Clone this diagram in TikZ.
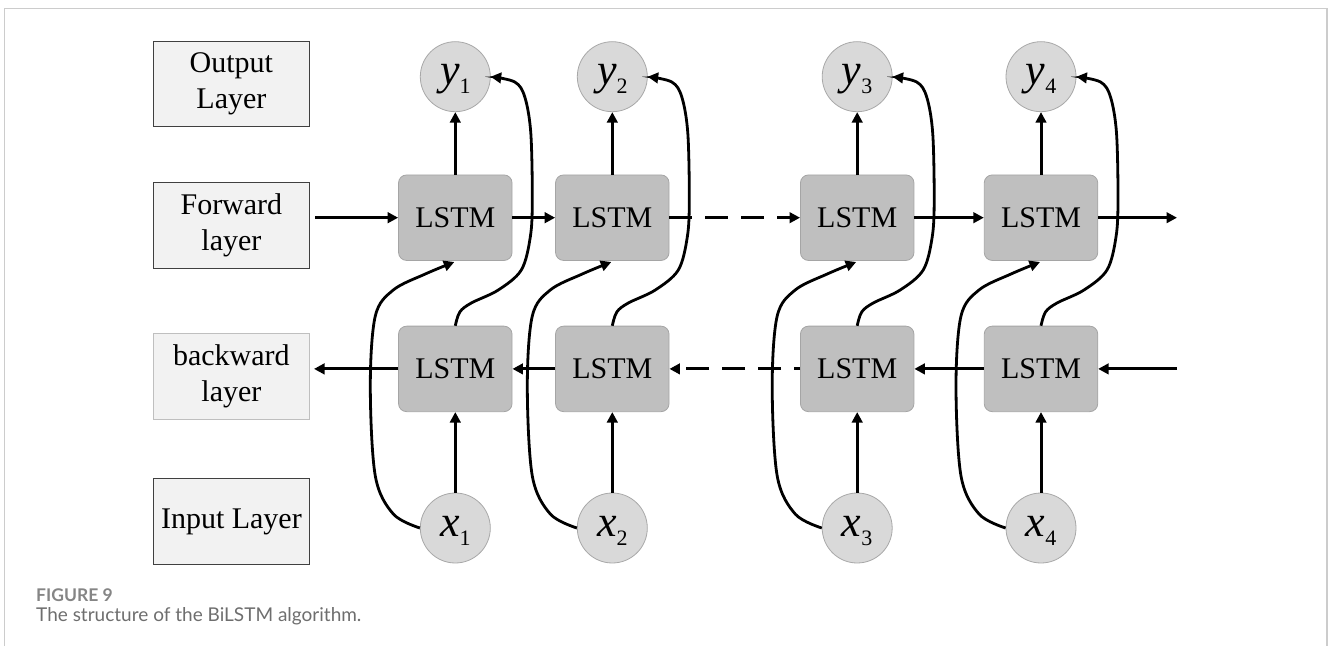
\documentclass[tikz,border=0pt]{standalone}
\usepackage{fontspec}
\setmainfont{Liberation Serif}
\newfontfamily\capfont{Lato}
\newfontfamily\symfont{Liberation Serif}
\usetikzlibrary{arrows.meta}
\definecolor{lstmfill}{HTML}{BFBFBF}
\definecolor{lstmdraw}{HTML}{A5A5A5}
\definecolor{circfill}{HTML}{D9D9D9}
\definecolor{circdraw}{HTML}{A8A8A8}
\definecolor{labfill}{HTML}{F2F2F2}
\definecolor{labdraw}{HTML}{404040}
\definecolor{framecol}{HTML}{CCCCCC}
\definecolor{capgray}{HTML}{6E6E6E}
\definecolor{figgray}{HTML}{858585}
\newcommand\symsub[2]{{\symfont\fontsize{44}{44}\selectfont\itshape #1}\raisebox{-9pt}{\symfont\fontsize{22}{22}\selectfont #2}}
\begin{document}
\begin{tikzpicture}[x=1pt,y=1pt,
  lstm/.style={rectangle, rounded corners=8pt, fill=lstmfill, draw=lstmdraw, line width=0.8pt, minimum width=113.5pt, minimum height=85.5pt, inner sep=0pt, font=\fontsize{30}{36}\selectfont},
  unit/.style={circle, fill=circfill, draw=circdraw, line width=0.8pt, minimum size=70pt, inner sep=0pt},
  sym/.style={anchor=base, inner sep=0pt},
  layerbox/.style={rectangle, fill=labfill, draw=labdraw, line width=1.1pt, minimum width=156pt, minimum height=85.5pt, inner sep=0pt, align=center, font=\fontsize{30}{36}\selectfont},
  arr/.style={line width=3pt, -{Triangle[length=10.5pt,width=10.5pt]}},
  dsh/.style={arr, dash pattern=on 23pt off 13pt},
  curve/.style={arr, line width=2.8pt},
]
\useasboundingbox (0,0) rectangle (1328,646);
% frame
\draw[framecol, line width=1.2pt] (4.3,0) -- (4.3,637.5) -- (1327,637.5) -- (1327,0);
% layer labels
\node[layerbox] (outL) at (231.4,562) {Output\\Layer};
\node[layerbox] (fwdL) at (231.4,420.3) {Forward\\layer};
\node[layerbox, draw=black!25] (bwdL) at (231.4,269.3) {backward\\layer};
\node[layerbox] (inL) at (231.4,124.5) {Input Layer};
% columns
\foreach \i/\c in {1/455.3, 2/612.3, 3/857.2, 4/1041} {
  \node[lstm] (f\i) at (\c,428.3) {LSTM};
  \node[lstm] (b\i) at (\c,277.1) {LSTM};
  \node[unit] (y\i) at (\c,569.3) {};
  \node[unit] (x\i) at (\c,118) {};
  \node[sym] (yl\i) at (\c,561) {\symsub{y}{\i}};
  \node[sym] (xl\i) at (\c,110) {\symsub{x}{\i}};
  \draw[arr] (f\i.north) -- (y\i.south);
  \draw[arr] (x\i.north) -- (b\i.south);
  \draw[curve] plot[smooth, tension=0.55] coordinates {(x\i.west) ({\c-62},132) ({\c-80},170) ({\c-85},260) ({\c-80},330) ({\c-62},356) ({\c-30},372) ({\c-1},384)};
  \draw[curve] plot[smooth, tension=0.55] coordinates {(b\i.north) ({\c+4.5},334) ({\c+16},343) ({\c+43},356) ({\c+66},376) ({\c+75},409) ({\c+77},446) ({\c+75.5},513) ({\c+69.5},549) ({\c+59.5},564) (y\i.east)};
}
% horizontal connectors
\coordinate (fin) at (315,428.3);
\coordinate (fout) at (1177,428.3);
\coordinate (bin) at (1177,277.1);
\coordinate (bout) at (314,277.1);
\draw[arr] (fin) -- (f1.west);
\draw[arr] (f1.east) -- (f2.west);
\draw[dsh] (f2.east) -- (f3.west);
\draw[arr] (f3.east) -- (f4.west);
\draw[arr] (f4.east) -- (fout);
\draw[arr] (bin) -- (b4.east);
\draw[arr] (b4.west) -- (b3.east);
\draw[dsh, dash phase=17pt] (b3.west) -- (b2.east);
\draw[arr] (b2.west) -- (b1.east);
\draw[arr] (b1.west) -- (bout);
% caption
\node[anchor=base west, inner sep=0pt, text=figgray, font=\capfont\bfseries\fontsize{17.5}{17.5}\selectfont] (fig) at (36,45) {FIGURE 9};
\node[anchor=base west, inner sep=0pt, text=capgray, font=\capfont\fontsize{19}{19}\selectfont] (cap) at (36,24.3) {The structure of the BiLSTM algorithm.};
\end{tikzpicture}
\end{document}
